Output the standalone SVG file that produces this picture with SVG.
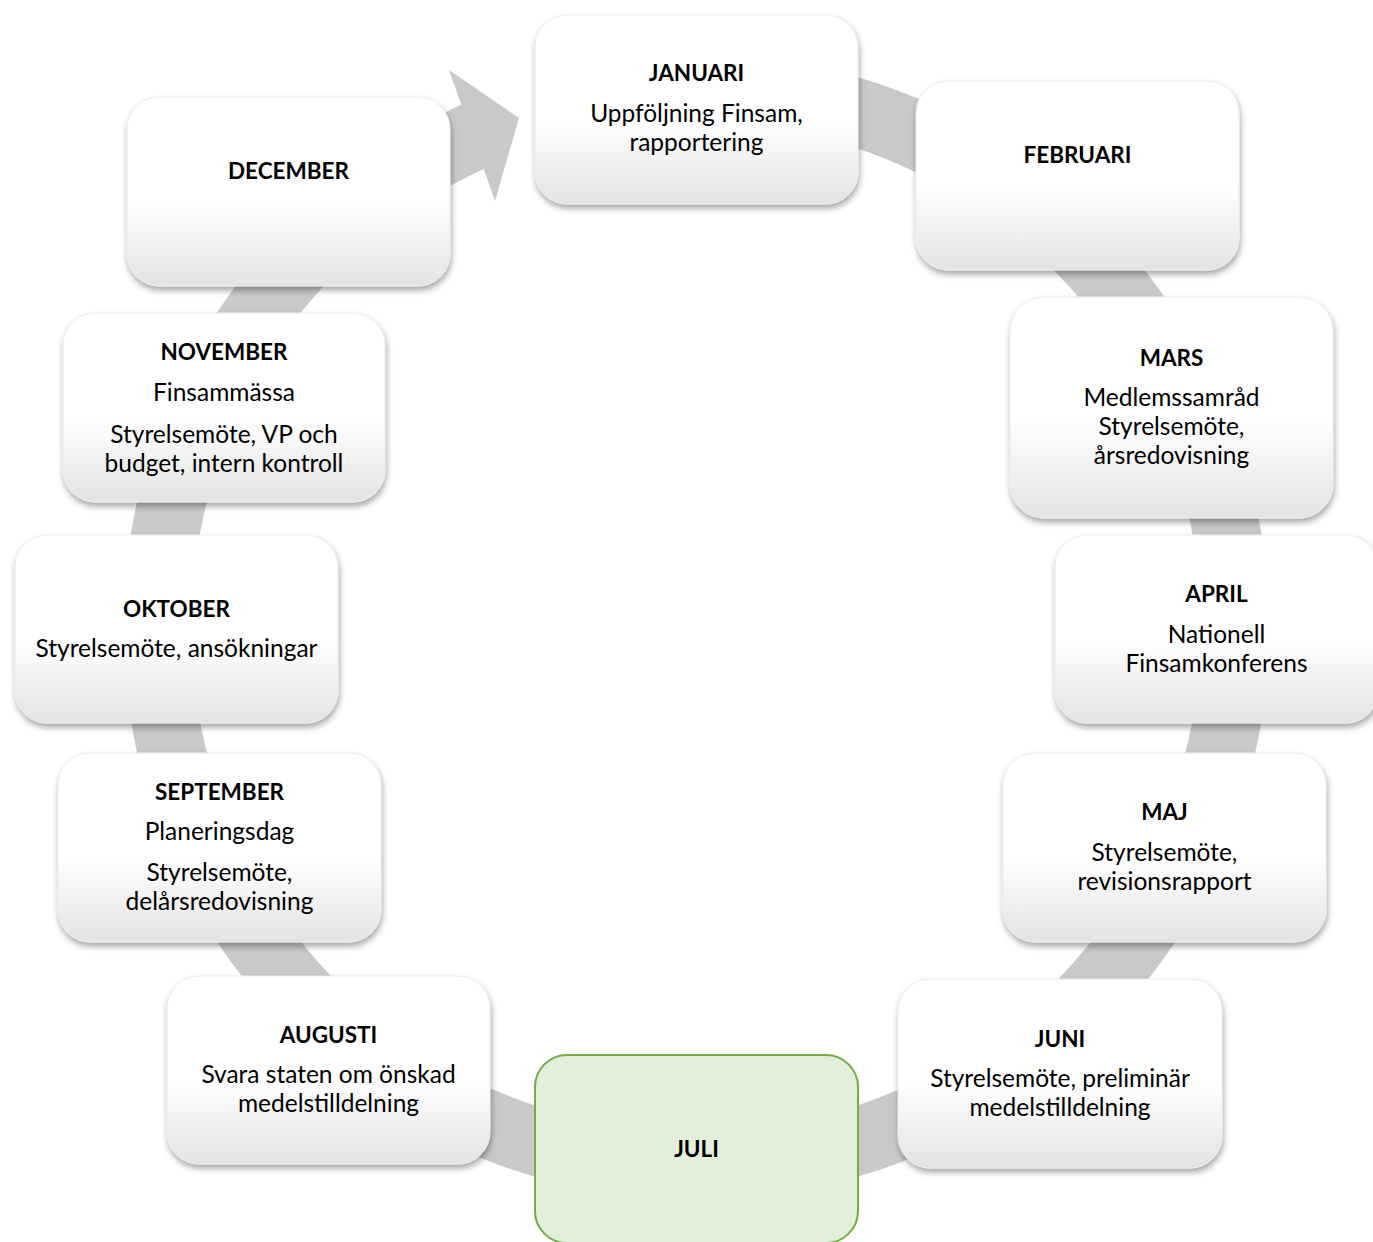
<svg xmlns="http://www.w3.org/2000/svg" width="1373" height="1242" viewBox="0 0 1373 1242">
<defs>
<linearGradient id="boxGrad" x1="0" y1="0" x2="0" y2="1">
<stop offset="0" stop-color="#ffffff"/>
<stop offset="0.55" stop-color="#ffffff"/>
<stop offset="1" stop-color="#e3e3e3"/>
</linearGradient>
<filter id="shadow" x="-10%" y="-10%" width="125%" height="130%">
<feDropShadow dx="1" dy="4" stdDeviation="3" flood-color="#000" flood-opacity="0.35"/>
</filter>
</defs>
<style>
.box{fill:url(#boxGrad);stroke:#ececec;stroke-width:1;filter:url(#shadow)}
.hl{fill:#e2efda;stroke:#70ad47;stroke-width:2}
text{font-family:Lato,"Open Sans","Liberation Sans",sans-serif;font-size:24.5px;fill:#000;text-anchor:middle}
.t{font-weight:bold;font-size:22.5px}
.band{fill:none;stroke:#c9c9c9;stroke-width:68}
</style>
<rect width="1373" height="1242" fill="#ffffff"/>
<g id="connectors">
<path class="band" d="M602.4 96.2 A539 539 0 1 1 475.1 135.4"/>
<polygon points="449,70 519,118 495,201" fill="#c9c9c9"/>
</g>
<g id="jan">
<rect class="box" x="535" y="15" width="323" height="189" rx="32"/>
<text class="t" x="696.5" y="81">JANUARI</text>
<text x="696.5" y="122">Uppföljning Finsam,</text>
<text x="696.5" y="151">rapportering</text>
</g>
<g id="feb">
<rect class="box" x="916" y="81" width="323" height="189" rx="32"/>
<text class="t" x="1077.5" y="163">FEBRUARI</text>
</g>
<g id="mars">
<rect class="box" x="1010" y="297" width="323" height="221" rx="34"/>
<text class="t" x="1171.5" y="366">MARS</text>
<text x="1171.5" y="406">Medlemssamråd</text>
<text x="1171.5" y="435">Styrelsemöte,</text>
<text x="1171.5" y="464">årsredovisning</text>
</g>
<g id="april">
<rect class="box" x="1055" y="535" width="323" height="188" rx="32"/>
<text class="t" x="1216.5" y="602">APRIL</text>
<text x="1216.5" y="643">Nationell</text>
<text x="1216.5" y="672">Finsamkonferens</text>
</g>
<g id="maj">
<rect class="box" x="1003" y="753" width="323" height="189" rx="32"/>
<text class="t" x="1164.5" y="820">MAJ</text>
<text x="1164.5" y="861">Styrelsemöte,</text>
<text x="1164.5" y="890">revisionsrapport</text>
</g>
<g id="juni">
<rect class="box" x="898" y="979" width="324" height="189" rx="32"/>
<text class="t" x="1060" y="1047">JUNI</text>
<text x="1060" y="1087">Styrelsemöte, preliminär</text>
<text x="1060" y="1116">medelstilldelning</text>
</g>
<g id="juli">
<rect class="hl" x="535" y="1055" width="323" height="188" rx="32"/>
<text class="t" x="696.5" y="1157">JULI</text>
</g>
<g id="augusti">
<rect class="box" x="167" y="976" width="323" height="188" rx="32"/>
<text class="t" x="328.5" y="1043">AUGUSTI</text>
<text x="328.5" y="1083">Svara staten om önskad</text>
<text x="328.5" y="1112">medelstilldelning</text>
</g>
<g id="september">
<rect class="box" x="58" y="753" width="323" height="189" rx="32"/>
<text class="t" x="219.5" y="800">SEPTEMBER</text>
<text x="219.5" y="840">Planeringsdag</text>
<text x="219.5" y="881">Styrelsemöte,</text>
<text x="219.5" y="910">delårsredovisning</text>
</g>
<g id="oktober">
<rect class="box" x="15" y="535" width="323" height="188" rx="32"/>
<text class="t" x="176.5" y="617">OKTOBER</text>
<text x="176.5" y="657">Styrelsemöte, ansökningar</text>
</g>
<g id="november">
<rect class="box" x="63" y="313" width="322" height="189" rx="32"/>
<text class="t" x="224" y="360">NOVEMBER</text>
<text x="224" y="401">Finsammässa</text>
<text x="224" y="443">Styrelsemöte, VP och</text>
<text x="224" y="472">budget, intern kontroll</text>
</g>
<g id="december">
<rect class="box" x="127" y="97" width="323" height="189" rx="32"/>
<text class="t" x="288.5" y="179">DECEMBER</text>
</g>
</svg>
